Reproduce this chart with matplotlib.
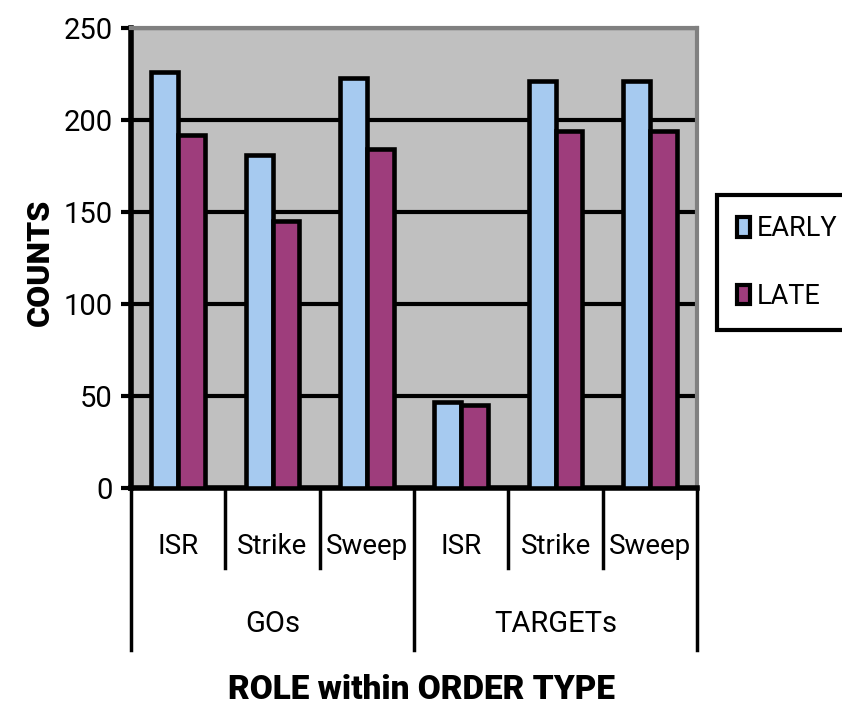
import matplotlib
matplotlib.use("Agg")
import matplotlib.pyplot as plt
import matplotlib.transforms as mtransforms
import numpy as np

roles = ["ISR", "Strike", "Sweep", "ISR", "Strike", "Sweep"]
order_types = ["GOs", "TARGETs"]
early = [226, 181, 223, 47, 221, 221]
late = [192, 145, 184, 45, 194, 194]
y_ticks = [0, 50, 100, 150, 200, 250]

plt.rcParams['font.family'] = ['Roboto', 'DejaVu Sans']

fig = plt.figure(figsize=(8.42, 7.05), dpi=100)
ax = fig.add_axes([131/842, 1-488/705, (697-131)/842, (488-28)/705])
ax.set_facecolor("#C0C0C0")

x = np.arange(len(roles))
w = 1/3.5
ax.bar(x - w/2, early, w, color="#A6CAF0", edgecolor="black", linewidth=3.3,
       label="EARLY", zorder=3)
ax.bar(x + w/2, late, w, color="#9E3D7C", edgecolor="black", linewidth=3.3,
       label="LATE", zorder=3)

ax.set_xlim(-0.5, len(roles) - 0.5)
ax.set_ylim(0, 250)
ax.set_yticks(y_ticks)
ax.set_yticklabels([str(v) for v in y_ticks], fontsize=21)
ax.set_xticks([])
ax.yaxis.grid(True, color="black", linewidth=3)
ax.set_axisbelow(True)
ax.tick_params(axis="y", length=7, width=3, direction="out", pad=6)

for s in ["top", "right"]:
    ax.spines[s].set_color("#808080")
    ax.spines[s].set_linewidth(3)
for s in ["left", "bottom"]:
    ax.spines[s].set_color("black")
    ax.spines[s].set_linewidth(4)

# two-level category axis drawn under the plot
trans = mtransforms.blended_transform_factory(ax.transData, ax.transAxes)
px = 1/460
for b in range(len(roles) + 1):
    edge = b - 0.5
    depth = 162 if b % 3 == 0 else 80
    ax.plot([edge, edge], [0, -depth*px], color="black", linewidth=2.5,
            transform=trans, clip_on=False)
for i, r in enumerate(roles):
    ax.text(i, -58*px, r, transform=trans, ha="center", va="center", fontsize=20)
for g, name in enumerate(order_types):
    ax.text(g*3 + 1, -136*px, name, transform=trans, ha="center", va="center",
            fontsize=21)

fig.text(421/842, 1-690/705, "ROLE within ORDER TYPE", ha="center", va="center",
         fontsize=24, fontweight="heavy")
fig.text(40/842, 1-262/705, "COUNTS", ha="center", va="center", rotation=90,
         fontsize=23, fontweight="heavy")

leg = fig.legend(loc="upper left", bbox_to_anchor=(717/842, 1-195/705),
                 fontsize=19.5, frameon=True, fancybox=False, framealpha=1,
                 borderpad=0.75, handlelength=0.45, handleheight=0.75,
                 handletextpad=0.25, labelspacing=1.5, borderaxespad=0)
leg.get_frame().set_edgecolor("black")
leg.get_frame().set_linewidth(3)
for h in leg.legend_handles:
    h.set_linewidth(3)

fig.savefig("out.png", dpi=100)
